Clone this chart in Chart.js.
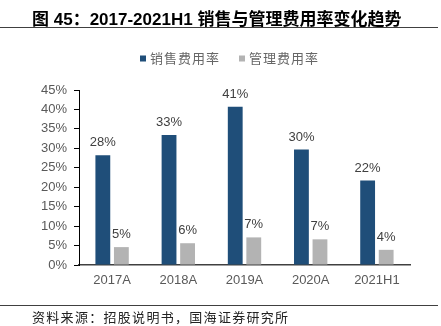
<!DOCTYPE html>
<html>
<head>
<meta charset="utf-8">
<script src="https://cdn.jsdelivr.net/npm/chart.js@4.4.0/dist/chart.umd.min.js"></script>
<style>
  html, body { margin: 0; padding: 0; background: #fff; }
  #wrap { position: relative; width: 441px; height: 326px; overflow: hidden; }
  #c { position: absolute; left: 0; top: 0; }
  .title { position: absolute; left: 32px; top: 5px; font: bold 17px "Liberation Sans", "Noto Sans CJK SC", sans-serif; color: #000; white-space: nowrap; }
  .title .cjk { font-family: "Noto Sans CJK SC", sans-serif; }
  .line1 { position: absolute; left: 0; top: 27px; width: 438px; height: 0; border-top: 1.5px solid #404040; }
  .line2 { position: absolute; left: 0; top: 305px; width: 438px; height: 0; border-top: 1.5px solid #404040; }
  .foot { position: absolute; left: 32px; top: 307px; font: 13px "Noto Sans CJK SC", sans-serif; letter-spacing: 1.3px; color: #222; white-space: nowrap; }
</style>
</head>
<body>
<div id="wrap">
  <canvas id="c" width="441" height="326"></canvas>
  <div class="title"><span class="cjk">图</span> 45<span class="cjk">：</span>2017-2021H1 <span class="cjk">销售与管理费用率变化趋势</span></div>
  <div class="line1"></div>
  <div class="line2"></div>
  <div class="foot">资料来源：招股说明书，国海证券研究所</div>
</div>
<script>
const categories = ["2017A", "2018A", "2019A", "2020A", "2021H1"];
const seriesNames = ["销售费用率", "管理费用率"];
const salesRate = [28.2, 33.4, 40.7, 29.7, 21.7];
const adminRate = [4.6, 5.6, 7.1, 6.6, 3.9];
const yTicks = [0, 5, 10, 15, 20, 25, 30, 35, 40, 45];
const colors = ["#1F4E79", "#B3B3B3"];

const labelPlugin = {
  id: 'barLabels',
  afterDatasetsDraw(chart) {
    const ctx = chart.ctx;
    ctx.save();
    ctx.font = '13px "Liberation Sans", Arial, sans-serif';
    ctx.fillStyle = '#404040';
    ctx.textAlign = 'center';
    ctx.textBaseline = 'bottom';
    chart.data.datasets.forEach((ds, i) => {
      const meta = chart.getDatasetMeta(i);
      meta.data.forEach((el, j) => {
        ctx.fillText(Math.round(ds.data[j]) + '%', el.x, el.y - 6);
      });
    });
    ctx.restore();
  }
};

const legendPlugin = {
  id: 'customLegend',
  afterDraw(chart) {
    const ctx = chart.ctx;
    ctx.save();
    ctx.font = '13px "Noto Sans CJK SC", sans-serif';
    ctx.textBaseline = 'middle';
    try { ctx.letterSpacing = '1px'; } catch (e) {}
    const positions = [140, 239];
    chart.data.datasets.forEach((ds, i) => {
      const x = positions[i];
      const y = 58.5;
      ctx.fillStyle = ds.backgroundColor;
      ctx.fillRect(x, y - 3, 6, 6);
      ctx.fillStyle = '#666';
      ctx.fillText(ds.label, x + 10, y);
    });
    ctx.restore();
  }
};

new Chart(document.getElementById('c'), {
  type: 'bar',
  data: {
    labels: categories,
    datasets: [
      { label: seriesNames[0], data: salesRate, backgroundColor: colors[0] },
      { label: seriesNames[1], data: adminRate, backgroundColor: colors[1] }
    ]
  },
  options: {
    responsive: false,
    animation: false,
    devicePixelRatio: 1,
    categoryPercentage: 0.56,
    barPercentage: 0.8,
    layout: { padding: { top: 90, right: 31, bottom: 36, left: 0 } },
    plugins: { legend: { display: false }, tooltip: { enabled: false } },
    scales: {
      x: {
        grid: { display: true, drawOnChartArea: false, drawTicks: false },
        border: { display: true, color: '#404040', width: 1.5 },
        ticks: { color: '#595959', font: { size: 13, family: '"Liberation Sans", Arial, sans-serif' }, padding: 8 },
        afterFit(scale) { scale.height = 25; }
      },
      y: {
        min: 0, max: 45,
        afterBuildTicks(scale) { scale.ticks = yTicks.map(v => ({ value: v })); },
        grid: { display: true, drawOnChartArea: false, drawTicks: true, tickLength: 5, color: '#000' },
        border: { display: true, color: '#000', width: 1 },
        ticks: { color: '#595959', font: { size: 13, family: '"Liberation Sans", Arial, sans-serif' }, padding: 7, callback: v => v + '%' },
        afterFit(scale) { scale.width = 79; }
      }
    }
  },
  plugins: [labelPlugin, legendPlugin]
});
</script>
</body>
</html>
